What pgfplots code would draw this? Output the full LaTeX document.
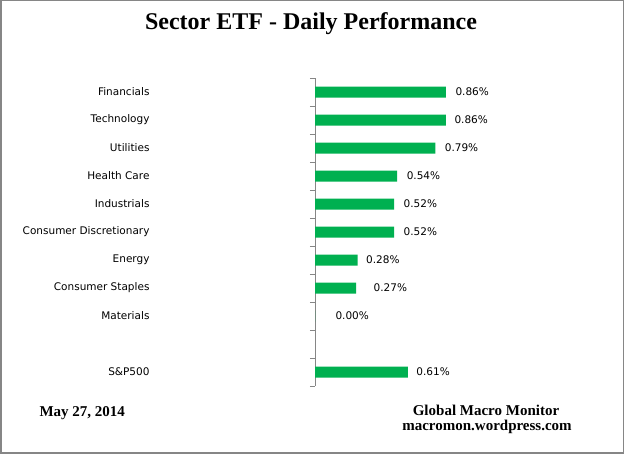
\documentclass[border=0pt]{standalone}
\usepackage{pgfplots}
\pgfplotsset{compat=1.18}
\usepackage{fontspec}
\setmainfont{Liberation Serif}
\newfontfamily\lblfont{DejaVu Sans}
\definecolor{barGreen}{HTML}{00B050}
\definecolor{frameGray}{HTML}{868686}

% y = row (0 at top), x = daily change in %, off = label offset in bp
\pgfplotstableread{
y x off
0 0.86 6
1 0.86 5
2 0.79 6
3 0.54 6
4 0.52 6
5 0.52 6
6 0.28 5
7 0.27 14
8 0.00 17
10 0.61 5
}\sectordata

\begin{document}
\begin{tikzpicture}
\useasboundingbox (0,0) rectangle (625bp,455bp);
\draw[frameGray, line width=1.5bp] (0.75bp,1.75bp) rectangle (623.25bp,454.25bp);

\node[font=\bfseries\fontsize{24bp}{28bp}\selectfont] at (311bp,431bp) {Sector ETF - Daily Performance};
\node[font=\bfseries\fontsize{15bp}{17bp}\selectfont, anchor=west] at (36bp,42bp) {May 27, 2014};
\node[font=\bfseries\fontsize{15bp}{17bp}\selectfont] at (486bp,45bp) {Global Macro Monitor};
\node[font=\bfseries\fontsize{15bp}{17bp}\selectfont] at (487bp,28bp) {macromon.wordpress.com};

\begin{axis}[
    at={(315bp,69bp)}, anchor=south west,
    scale only axis, width=243.7bp, height=308bp,
    xmin=0, xmax=1.6, ymin=-0.5, ymax=10.5, y dir=reverse,
    axis x line=none, axis y line=left,
    axis line style={-, draw=frameGray},
    ytick={0,...,10},
    yticklabels={Financials,Technology,Utilities,Health Care,Industrials,Consumer Discretionary,Energy,Consumer Staples,Materials,{},S\&P500},
    minor ytick={-0.5,0.5,...,10.5},
    major tick length=0pt, minor tick length=5bp,
    tick align=outside, tick style={draw=frameGray},
    yticklabel style={font=\lblfont\fontsize{10.5bp}{12bp}\selectfont, xshift=-162bp},
    xbar, bar width=11bp,
    /pgf/number format/assume math mode=true,
    nodes near coords={\pgfmathprintnumber[fixed,fixed zerofill,precision=2]{\pgfplotspointmeta}\%},
    clip=false,
]
\addplot[draw=none, fill=barGreen,
    visualization depends on={\thisrow{off}\as\off},
    nodes near coords style={font=\lblfont\fontsize{10.5bp}{12bp}\selectfont, text=black, anchor=west, xshift=\off bp}]
    table[x=x, y=y] {\sectordata};
\end{axis}
\end{tikzpicture}
\end{document}
